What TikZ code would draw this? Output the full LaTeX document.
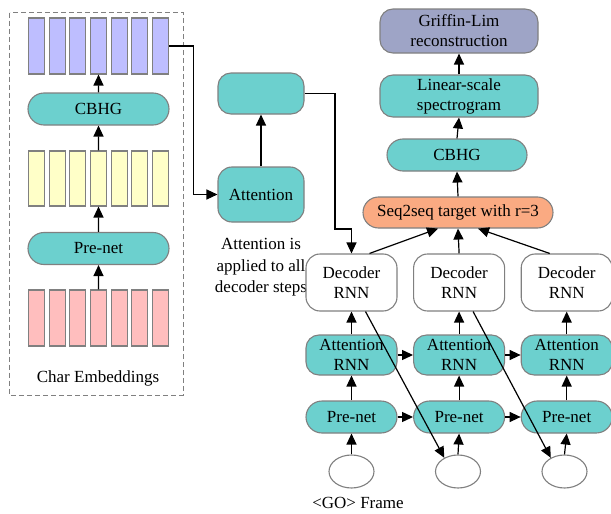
\documentclass[tikz,border=0pt]{standalone}
\usepackage{fontspec}
\setmainfont{Liberation Serif}
\usepackage{tikz}
\usetikzlibrary{arrows.meta, positioning, shapes.misc, shapes.geometric}
\definecolor{tealfill}{RGB}{108,208,206}
\definecolor{encpurple}{RGB}{190,190,255}
\definecolor{preyellow}{RGB}{255,255,200}
\definecolor{embpink}{RGB}{255,190,190}
\definecolor{tgtorange}{RGB}{250,170,130}
\definecolor{glblue}{RGB}{158,164,198}
\definecolor{edgegray}{RGB}{128,128,128}
\tikzset{
  bar/.style = {
    rectangle, draw=edgegray, line width=1.1pt,
    minimum width=16pt, minimum height=56pt, inner sep=0pt
  },
  pill/.style = {
    rounded rectangle, draw=edgegray, line width=1.1pt,
    fill=tealfill, minimum width=141pt, minimum height=32pt, inner sep=0pt
  },
  rbox/.style = {
    rectangle, rounded corners=14pt, draw=edgegray, line width=1.1pt,
    minimum width=91pt, align=center, inner sep=0pt
  },
  goframe/.style = {
    ellipse, draw=edgegray, line width=1.1pt, fill=white,
    minimum width=45pt, minimum height=33pt, inner sep=0pt
  },
  myarrow/.style = {-{Triangle[length=11pt,width=10pt]}, line width=1.2pt}
}

\begin{document}
\begin{tikzpicture}[x=1pt, y=-1pt, font=\fontsize{17}{20}\selectfont]
  \useasboundingbox (0,0) rectangle (611,514);
  % Encoder
  \draw[edgegray, line width=1pt, dash pattern=on 5pt off 3pt] (9.5,12.5) rectangle (183,395);
  \foreach \i in {1,...,7} {
    \node[bar, fill=embpink]                      (emb\i) at ({36.5+20.67*(\i-1)},318)   {};
    \node[bar, fill=preyellow, minimum height=55pt] (pre\i) at ({36.5+20.67*(\i-1)},178.5) {};
    \node[bar, fill=encpurple]                    (enc\i) at ({36.5+20.67*(\i-1)},46)    {};
  }
  \node[pill] (prenetL) at (98.5,248.5) {Pre-net};
  \node[pill] (cbhgL)   at (98.5,109)   {CBHG};
  \node       (charemb) at (98,378.5)   {Char Embeddings};
  \draw[myarrow] (emb4.north)    -- (prenetL.south);
  \draw[myarrow] (prenetL.north) -- (pre4.south);
  \draw[myarrow] (pre4.north)    -- (cbhgL.south);
  \draw[myarrow] (cbhgL.north)   -- (enc4.south);
  % Attention
  \node[rbox, fill=tealfill, minimum width=86pt, minimum height=55pt] (att) at (261,194.5) {Attention};
  \node[rbox, fill=tealfill, minimum width=86pt, minimum height=41pt, rounded corners=13pt] (ctx) at (261,93.5) {};
  \node[align=center, font=\fontsize{17}{21.5}\selectfont] (attnote) at (261,267.5)
    {Attention is\\applied to all\\decoder steps};
  \draw[myarrow] (enc7.east) -- ++(24.5,0) |- (att.west);
  \draw[myarrow] (att.north) -- (ctx.south);
  % Decoder steps
  \node[rbox, minimum height=57pt] (dec1) at (351.5,282.5) {Decoder\\RNN};
  \node[rbox, minimum height=57pt, right=15.5pt of dec1] (dec2) {Decoder\\RNN};
  \node[rbox, minimum height=57pt, right=15.5pt of dec2] (dec3) {Decoder\\RNN};
  \node[rbox, fill=tealfill, minimum height=40pt, rounded corners=13pt] (arnn1) at (351.5,355) {Attention\\RNN};
  \node[rbox, fill=tealfill, minimum height=40pt, rounded corners=13pt, right=15.5pt of arnn1] (arnn2) {Attention\\RNN};
  \node[rbox, fill=tealfill, minimum height=40pt, rounded corners=13pt, right=15.5pt of arnn2] (arnn3) {Attention\\RNN};
  \node[pill, minimum width=91pt] (pnet1) at (351.5,417) {Pre-net};
  \node[pill, minimum width=91pt, right=15.5pt of pnet1] (pnet2) {Pre-net};
  \node[pill, minimum width=91pt, right=15.5pt of pnet2] (pnet3) {Pre-net};
  \node[goframe] (go1) at (351.5,471.5) {};
  \node[goframe] (go2) at (458,471.5)   {};
  \node[goframe] (go3) at (564.5,471.5) {};
  \node (golabel) at (358,503) {<GO> Frame};
  % Output stack
  \node[pill, fill=tgtorange, minimum width=190pt, minimum height=31pt] (s2s) at (458,212.5) {Seq2seq target with r=3};
  \node[pill, minimum width=140pt] (cbhgR) at (457,155) {CBHG};
  \node[rbox, fill=tealfill, minimum width=158pt, minimum height=42pt, rounded corners=13pt] (lin) at (459,96)
    {Linear-scale\\spectrogram};
  \node[rbox, fill=glblue, minimum width=158pt, minimum height=44pt, rounded corners=13pt] (griffin) at (459,31)
    {Griffin-Lim\\reconstruction};
  % Arrows
  \coordinate (bend) at (335,229);
  \draw[myarrow] (ctx.east) -| (bend) -| (dec1.north);
  \draw[myarrow] (go1.north)   -- (pnet1.south);
  \draw[myarrow] (go2.north)   -- (pnet2.south);
  \draw[myarrow] (go3.north)   -- (pnet3.south);
  \draw[myarrow] (pnet1.north) -- (arnn1.south);
  \draw[myarrow] (pnet2.north) -- (arnn2.south);
  \draw[myarrow] (pnet3.north) -- (arnn3.south);
  \draw[myarrow] (arnn1.north) -- (dec1.south);
  \draw[myarrow] (arnn2.north) -- (dec2.south);
  \draw[myarrow] (arnn3.north) -- (dec3.south);
  \draw[myarrow] (pnet1.east)  -- (pnet2.west);
  \draw[myarrow] (pnet2.east)  -- (pnet3.west);
  \draw[myarrow] (arnn1.east)  -- (arnn2.west);
  \draw[myarrow] (arnn2.east)  -- (arnn3.west);
  \draw[myarrow] ([xshift=14pt]dec1.south) -- (go2.135);
  \draw[myarrow] ([xshift=14pt]dec2.south) -- (go3.135);
  \draw[myarrow] ([xshift=18pt]dec1.north)  -- ([xshift=-20pt]s2s.south);
  \draw[myarrow] (dec2.north)               -- (s2s.south);
  \draw[myarrow] ([xshift=-17pt]dec3.north) -- ([xshift=20pt]s2s.south);
  \draw[myarrow] (s2s.north)   -- (cbhgR.south);
  \draw[myarrow] (cbhgR.north) -- (lin.south);
  \draw[myarrow] (lin.north)   -- (griffin.south);
\end{tikzpicture}
\end{document}
